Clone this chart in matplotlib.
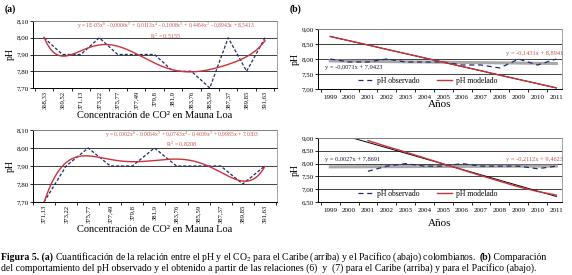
import matplotlib
matplotlib.use('Agg')
import matplotlib.pyplot as plt
from matplotlib.ticker import FixedLocator
import numpy as np

plt.rcParams['font.family'] = 'Liberation Serif'
plt.rcParams['mathtext.fontset'] = 'stix'

# CO2 Mauna Loa (ppm) and observed pH
co2_caribe = ['368,33', '369,52', '371,13', '373,22', '375,77', '377,49', '379,8',
              '381,9', '383,76', '385,59', '387,37', '389,85', '391,63']
ph_caribe = [8.00, 7.90, 7.90, 8.00, 7.90, 7.90, 7.90, 7.80, 7.80, 7.70, 8.00, 7.80, 8.00]

co2_pacifico = ['371,13', '373,22', '375,77', '377,49', '379,8', '381,9', '383,76',
                '385,59', '387,37', '389,85', '391,63']
ph_pacifico = [7.70, 7.90, 8.00, 7.90, 7.90, 8.00, 7.90, 7.90, 7.90, 7.80, 7.90]

years = list(range(1999, 2012))
years_pac = list(range(2001, 2012))
ph_mod_caribe = [8.75, 8.61, 8.47, 8.32, 8.18, 8.04, 7.89, 7.75, 7.61, 7.46, 7.32, 7.18, 7.04]
ph_mod_pacifico = [8.90, 8.67, 8.45, 8.22, 7.99, 7.76, 7.53, 7.31, 7.09, 6.91, 6.77]

eq_a_top = 'y = 1E-05x$^6$ - 0,0006x$^5$ + 0,0113x$^4$ - 0,1008x$^3$ + 0,4454x$^2$ - 0,8943x + 8,5413'
r2_a_top = 'R$^2$ = 0,5155'
eq_a_bot = 'y = 0,0002x$^6$ - 0,0064x$^5$ + 0,0743x$^4$ - 0,4009x$^3$ + 0,9985x + 7,0303'
r2_a_bot = 'R$^2$ = 0,8208'

navy = '#1f2a6b'
red = '#c8323a'
eqred = '#c8504a'
grid_c = '#404040'

fig = plt.figure(figsize=(5.72, 2.75), dpi=100)


def fmt(v):
    return ('%.2f' % v).replace('.', ',')


def style_axes(ax, yticks):
    ax.set_yticks(yticks)
    ax.set_yticklabels([fmt(v) for v in yticks], fontsize=5)
    ax.set_ylim(yticks[0], yticks[-1])
    ax.grid(axis='y', color=grid_c, lw=0.7)
    ax.set_axisbelow(True)
    for s in ['top', 'right']:
        ax.spines[s].set_color('#909090')
        ax.spines[s].set_linewidth(0.6)
    for s in ['left', 'bottom']:
        ax.spines[s].set_linewidth(0.7)
    ax.tick_params(axis='y', length=2, width=0.6, pad=1)
    ax.set_ylabel('pH', fontsize=7, labelpad=1)


def panel_a(rect, labels, ph, eq, r2, xlim, eq_x, eq_y, r2_y):
    ax = fig.add_axes(rect)
    x = np.arange(1, len(ph) + 1)
    ax.plot(x, ph, color=navy, lw=0.9, ls=(0, (2.5, 1.5)))
    # polynomial trend line (order 6) of the observed pH
    coef = np.polyfit(x, ph, 6)
    xs = np.linspace(1, len(ph), 200)
    ax.plot(xs, np.polyval(coef, xs), color=red, lw=1.0)
    style_axes(ax, [7.7, 7.8, 7.9, 8.0, 8.1])
    ax.set_xlim(*xlim)
    ax.set_xticks(x)
    ax.set_xticklabels(labels, rotation=90, fontsize=4.8)
    ax.xaxis.set_minor_locator(FixedLocator(np.arange(0.5, len(ph) + 1, 1)))
    ax.tick_params(axis='x', which='major', length=0, pad=2)
    ax.tick_params(axis='x', which='minor', length=2, width=0.6)
    ax.set_xlabel('Concentración de CO² en Mauna Loa', fontsize=7.5, labelpad=1)
    ax.text(eq_x, eq_y, eq, transform=ax.transAxes, fontsize=4.1, color=eqred,
            ha='center', va='center')
    ax.text(eq_x, r2_y, r2, transform=ax.transAxes, fontsize=4.3, color=eqred,
            ha='center', va='center')
    return ax


def panel_b(rect, yrs_obs, ph, yrs_mod, mod, yticks, trend_obs, trend_mod,
            eq_obs, eq_obs_pos, eq_mod, eq_mod_pos, leg_y, xpad):
    ax = fig.add_axes(rect)
    ax.plot(yrs_obs, ph, color=navy, lw=0.9, ls=(0, (4, 3)), label='pH observado')
    ax.plot(yrs_mod, mod, color=red, lw=1.0, label='pH modelado')
    # linear trend lines
    idx = np.arange(1, 14)
    yr = np.array(years)
    ax.plot(yr, trend_obs[0] * idx + trend_obs[1], color='#a8a8a8', lw=2.2, zorder=1.5)
    ax.plot(yr, trend_mod[0] * idx + trend_mod[1], color='black', lw=0.7, zorder=1.8)
    style_axes(ax, yticks)
    ax.set_xlim(1998.35, 2011.3)
    ax.set_xticks(years)
    ax.set_xticklabels([str(y) for y in years], fontsize=5)
    ax.xaxis.set_minor_locator(FixedLocator(np.arange(1998.5, 2012, 1)))
    ax.tick_params(axis='x', which='major', length=0, pad=4)
    ax.tick_params(axis='x', which='minor', length=2, width=0.6)
    ax.set_xlabel('Años', fontsize=8, labelpad=xpad)
    ax.text(eq_obs_pos[0], eq_obs_pos[1], eq_obs, fontsize=4.6, color='#1a1a3a',
            ha='left', va='center')
    ax.text(eq_mod_pos[0], eq_mod_pos[1], eq_mod, fontsize=4.6, color=eqred,
            ha='right', va='center')
    ax.legend(loc='center', bbox_to_anchor=(0.45, leg_y), ncol=2, frameon=False,
              fontsize=5.5, handlelength=2.0, columnspacing=2.2, handletextpad=0.5,
              borderaxespad=0, borderpad=0)
    return ax


panel_a([33 / 572, 1 - 88 / 275, 244 / 572, 67 / 275], co2_caribe, ph_caribe,
        eq_a_top, r2_a_top, (0.4, 13.65), 0.545, 0.93, 0.78)
panel_a([33 / 572, 1 - 202 / 275, 244 / 572, 72 / 275], co2_pacifico, ph_pacifico,
        eq_a_bot, r2_a_bot, (0.5, 11.55), 0.61, 0.94, 0.81)

panel_b([318 / 572, 1 - 89 / 275, 244 / 572, 60 / 275], years, ph_caribe, years,
        ph_mod_caribe, [7.0, 7.5, 8.0, 8.5, 9.0], (-0.0071, 7.9423), (-0.1431, 8.8941),
        'y = -0,0071x + 7,9423', (1998.7, 7.72), 'y = -0,1431x + 8,8941',
        (2011.35, 8.2), 0.14, 0)
panel_b([318 / 572, 1 - 202 / 275, 244 / 572, 64 / 275], years_pac, ph_pacifico,
        years_pac, ph_mod_pacifico, [6.5, 7.0, 7.5, 8.0, 8.5, 9.0], (0.0027, 7.8691),
        (-0.2112, 9.4623), 'y = 0,0027x + 7,8691', (1998.7, 8.16),
        'y = -0,2112x + 9,4623', (2011.35, 8.16), 0.13, 5)

fig.text(5 / 572, 1 - 9 / 275, '(a)', fontsize=7, fontweight='bold', va='center')
fig.text(290 / 572, 1 - 9 / 275, '(b)', fontsize=7, fontweight='bold', va='center')

# caption with bold parts
renderer = fig.canvas.get_renderer()
cap_size = 7.0
y1 = 1 - 257 / 275
y2 = 1 - 268 / 275
x0 = 1 / 572
line1 = [('Figura 5. (a)', True),
         (' Cuantificación de la relación entre el pH y el CO$_2$ para el Caribe (arriba) y el Pacífico (abajo) colombianos.  ', False),
         ('(b)', True), (' Comparación', False)]
for txt, bold in line1:
    t = fig.text(x0, y1, txt, fontsize=cap_size, fontweight='bold' if bold else 'normal',
                 va='center', ha='left')
    x0 += t.get_window_extent(renderer).width / fig.bbox.width
fig.text(1 / 572, y2, 'del comportamiento del pH observado y el obtenido a partir de las '
         'relaciones (6)  y  (7) para el Caribe (arriba) y para el Pacífico (abajo).',
         fontsize=cap_size, va='center', ha='left')

fig.savefig('out.png', dpi=100)
